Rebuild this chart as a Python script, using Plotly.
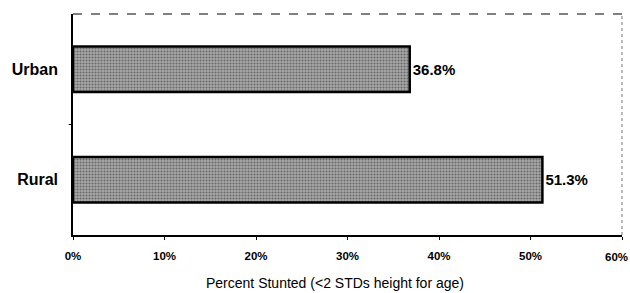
import plotly.graph_objects as go

categories = ["Rural", "Urban"]
values = [51.3, 36.8]
value_labels = ["51.3%", "36.8%"]
tick_vals = [0, 10, 20, 30, 40, 50, 60]
tick_text = ["0%", "10%", "20%", "30%", "40%", "50%", ""]
last_tick_label = "60%"
x_title = "Percent Stunted (<2 STDs height for age)"

FONT = "Liberation Sans, Arial"

fig = go.Figure()
fig.add_trace(go.Bar(
    y=categories, x=values, orientation="h",
    width=0.41,
    marker=dict(
        color="#8c8c8c",
        line=dict(color="black", width=2.5),
        pattern=dict(shape=".", fgcolor="#2a2a2a", bgcolor="#a8a8a8", size=3, solidity=0.4),
    ),
    text=value_labels, textposition="outside",
    textfont=dict(family=FONT, size=15, color="black", weight="bold"),
    cliponaxis=False,
))

fig.update_layout(
    width=630, height=293,
    margin=dict(l=73, r=8, t=14, b=58, autoexpand=False),
    paper_bgcolor="white", plot_bgcolor="white",
    showlegend=False,
    font=dict(family=FONT, color="black"),
    xaxis=dict(
        range=[0, 60], tickvals=tick_vals, ticktext=tick_text,
        tickfont=dict(size=11.5, family=FONT, weight="bold"),
        ticks="outside", ticklen=3, tickcolor="black", ticklabelstandoff=6,
        showline=True, linecolor="black", linewidth=1.5, mirror=False,
        showgrid=False, zeroline=False, automargin=False,
    ),
    yaxis=dict(
        range=[-0.5, 1.5], automargin=False,
        tickfont=dict(size=16, family=FONT, weight="bold"),
        ticks="", showline=True, linecolor="black", linewidth=1.5,
        showgrid=False, zeroline=False, ticklabelstandoff=10,
    ),
    annotations=[
        dict(text=last_tick_label, x=tick_vals[-1], xref="x", y=0, yref="paper",
             yanchor="middle", xanchor="right", xshift=8, yshift=-22, showarrow=False,
             font=dict(size=11.5, family=FONT, weight="bold")),
        dict(text=x_title, x=0.5, xref="paper", y=0, yref="paper",
             yanchor="middle", xanchor="center", xshift=-13, yshift=-48, showarrow=False,
             font=dict(size=14, family=FONT)),
    ],
    shapes=[
        dict(type="line", xref="paper", yref="paper", x0=0, x1=1, y0=1, y1=1,
             line=dict(color="black", width=1, dash="dash")),
        dict(type="line", xref="paper", yref="paper", x0=1, x1=1, y0=0, y1=1,
             line=dict(color="#777", width=1, dash="dot")),
        dict(type="line", xref="paper", yref="y", x0=-0.008, x1=0, y0=0.5, y1=0.5,
             line=dict(color="black", width=1)),
    ],
)

fig.write_html("out.html", config={"displayModeBar": False},
               post_script="document.body.style.margin='0';document.body.style.overflow='hidden';")
